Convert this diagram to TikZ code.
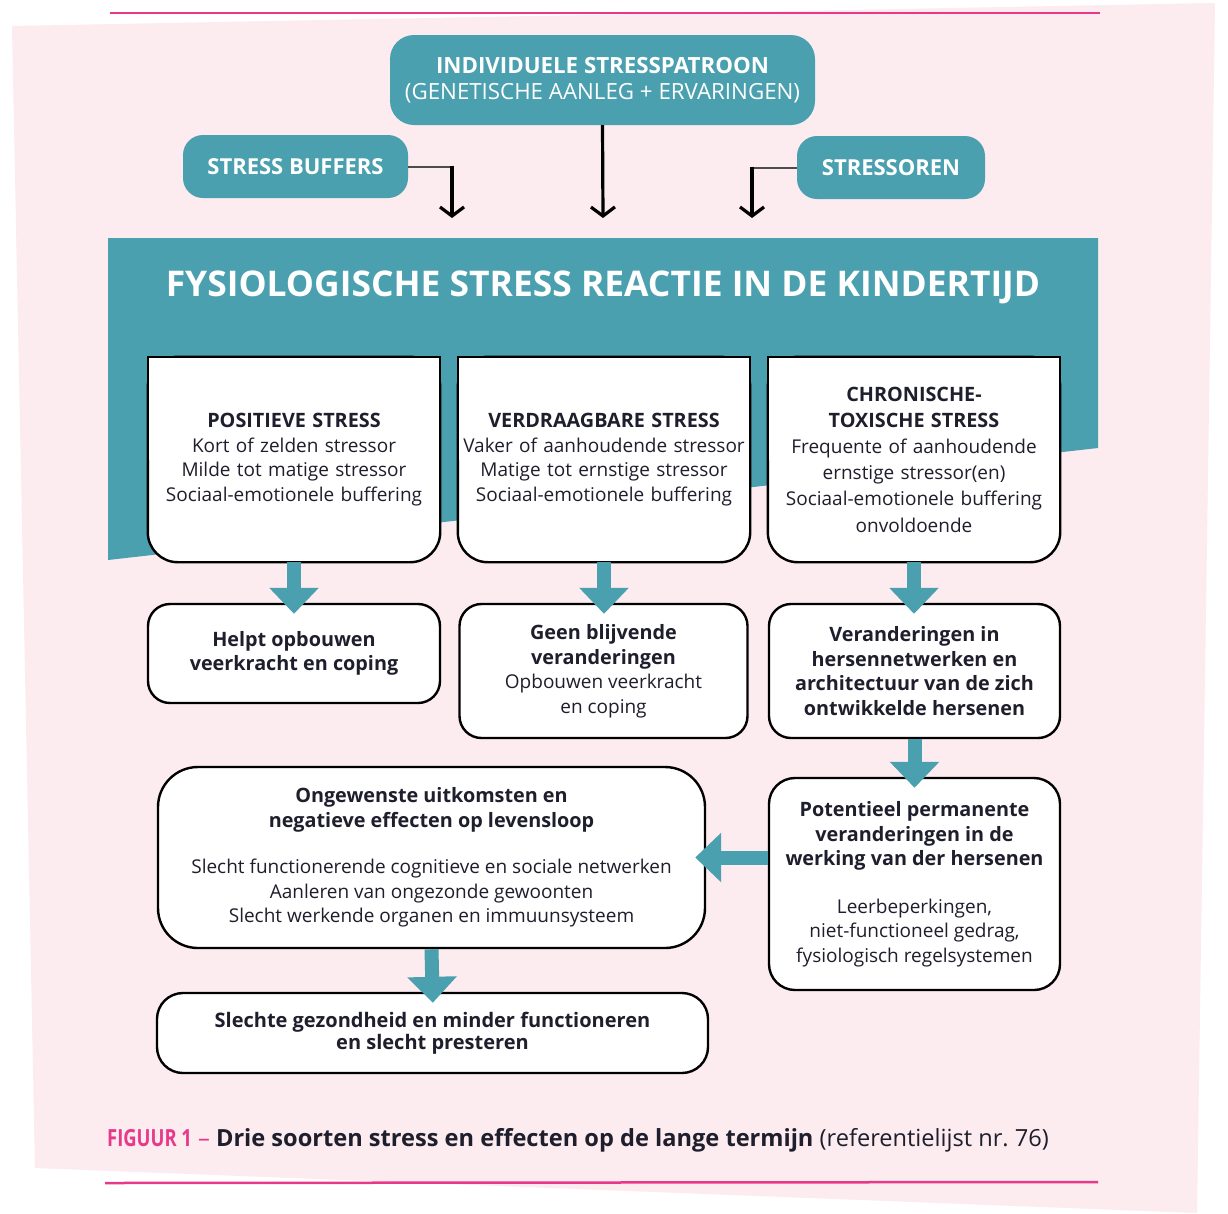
\documentclass[tikz,border=0pt]{standalone}
\usepackage{fontspec}
\setmainfont{Open Sans}
\usetikzlibrary{arrows.meta}
\definecolor{tealc}{HTML}{4AA0AE}
\definecolor{pinkbg}{HTML}{FCEBEF}
\definecolor{magline}{HTML}{E8388A}
\definecolor{ink}{HTML}{1E1E2C}
\pgfdeclarelayer{back}
\pgfdeclarelayer{background}
\pgfsetlayers{back,background,main}

% box with square top corners and rounded bottom corners, drawn behind its node
\newcommand\halfroundbox[1]{%
  \begin{pgfonlayer}{background}
    \draw[boxline, fill=white, rounded corners=30pt] (#1.north west) rectangle (#1.south east);
    \fill[white] (#1.north west) rectangle (#1.east);
    \draw[boxline] (#1.west) -- (#1.north west) -- (#1.north east) -- (#1.east);
  \end{pgfonlayer}}
% bold line at a slightly larger size
\newcommand\hd[1]{{\fontsize{19.8}{24.5}\selectfont\bfseries #1}}

\begin{document}
\begin{tikzpicture}[x=1pt,y=-1pt,
  body/.style={font=\fontsize{19}{24.5}\selectfont, text=ink},
  boldbody/.style={font=\fontsize{19.8}{24.5}\selectfont\bfseries, text=ink},
  tealbox/.style={fill=tealc, text=white, align=center, inner sep=0pt,
    font=\fontsize{22.3}{26}\selectfont},
  boxline/.style={draw=black, line width=2.4pt},
  stressbox/.style={body, minimum width=292pt, minimum height=205pt,
    text width=290pt, align=center, inner sep=0pt},
  resultbox/.style={body, boxline, fill=white, rounded corners=22pt,
    align=center, inner sep=0pt},
  blackarrow/.style={draw=black, line width=3.2pt,
    -{Straight Barb[length=9pt,width=24pt]}},
  greylink/.style={draw=black!70, line width=2pt},
  tealarrow/.style={draw=tealc, line width=14pt,
    -{Triangle[width=48pt,length=26pt]}, shorten >=-11pt}]

\useasboundingbox (0,0) rectangle (1228,1213);
\begin{pgfonlayer}{back}
  \fill[white] (0,0) rectangle (1228,1213);
  \fill[pinkbg] (12,26) -- (1215,3) -- (1197,1213) -- (35,1168) -- cycle;
  \draw[magline, line width=2.5pt] (110,13) -- (1100,13);
  \draw[magline, line width=2.5pt] (105,1183) -- (1098,1182);
  % band behind the three kinds of stress
  \fill[tealc] (108,238) -- (1098,238) -- (1098,448) -- (108,560) -- cycle;
\end{pgfonlayer}

% influences from above
\node[tealbox, rounded corners=24pt, minimum width=425pt, minimum height=90pt]
  (ind) at (602.5,80) {\textbf{INDIVIDUELE STRESSPATROON}\\(GENETISCHE AANLEG + ERVARINGEN)};
\node[tealbox, rounded corners=20pt, minimum width=225pt, minimum height=63pt,
  font=\fontsize{22}{26}\selectfont\bfseries]
  (buf) at (295.5,166.5) {STRESS BUFFERS};
\node[tealbox, rounded corners=20pt, minimum width=188pt, minimum height=63pt,
  font=\fontsize{22}{26}\selectfont\bfseries]
  (sor) at (891,167.5) {STRESSOREN};

\coordinate (inA) at (452,218);
\coordinate (inB) at (603,218);
\coordinate (inC) at (752,218);
\coordinate (ca) at (buf.east -| inA);
\coordinate (cc) at (sor.west -| inC);
\draw[greylink] (buf.east) -- (ca);
\draw[blackarrow] ([yshift=1pt]ca) -- (inA);
\draw[blackarrow] (ind.south) -- (inB);
\draw[greylink] (sor.west) -- (cc);
\draw[blackarrow] ([yshift=1pt]cc) -- (inC);

\node[text=white, font=\fontsize{35.4}{40}\selectfont\bfseries] (title) at (603,287)
  {FYSIOLOGISCHE STRESS REACTIE IN DE KINDERTIJD};

% three kinds of stress
\node[stressbox] (s1) at (294,459.5) {\hd{POSITIEVE STRESS}\\Kort of zelden stressor\\Milde tot matige stressor\\Sociaal-emotionele buffering};
\node[stressbox] (s2) at (604,459.5) {\hd{VERDRAAGBARE STRESS}\\Vaker of aanhoudende stressor\\Matige tot ernstige stressor\\Sociaal-emotionele buffering};
\node[stressbox, font=\fontsize{19}{26.2}\selectfont] (s3) at (914,459.5) {\hd{CHRONISCHE-}\\\hd{TOXISCHE STRESS}\\Frequente of aanhoudende\\ernstige stressor(en)\\Sociaal-emotionele buffering\\onvoldoende};
\halfroundbox{s1}
\halfroundbox{s2}
\halfroundbox{s3}

% outcomes
\node[resultbox, boldbody, minimum width=292pt, minimum height=99pt] (r1) at (294,653.5)
  {Helpt opbouwen\\veerkracht en coping};
\node[resultbox, minimum width=288pt, minimum height=134pt] (r2) at (603.5,671)
  {\hd{Geen blijvende}\\\hd{veranderingen}\\Opbouwen veerkracht\\en coping};
\node[resultbox, boldbody, minimum width=291pt, minimum height=134pt] (r3) at (914.5,671)
  {Veranderingen in\\hersennetwerken en\\architectuur van de zich\\ontwikkelde hersenen};
\node[resultbox, rounded corners=26pt, minimum width=291pt, minimum height=212pt] (r4) at (914.5,884)
  {\hd{Potentieel permanente}\\\hd{veranderingen in de}\\\hd{werking van der hersenen}\\[23pt]Leerbeperkingen,\\niet-functioneel gedrag,\\fysiologisch regelsystemen};
\node[resultbox, rounded corners=40pt, minimum width=547pt, minimum height=181pt] (r5) at (431.5,857.5)
  {\hd{Ongewenste uitkomsten en}\\\hd{negatieve effecten op levensloop}\\[22pt]Slecht functionerende cognitieve en sociale netwerken\\Aanleren van ongezonde gewoonten\\Slecht werkende organen en immuunsysteem};
\node[resultbox, rounded corners=26pt, minimum width=551pt, minimum height=80pt,
  font=\fontsize{20}{22}\selectfont\bfseries] (r6) at (432.5,1033)
  {Slechte gezondheid en minder functioneren\\en slecht presteren};

\draw[tealarrow] (s1.south) -- (s1.south |- r1.north);
\draw[tealarrow] (s2.south) -- (s2.south |- r2.north);
\draw[tealarrow] (s3.south) -- (s3.south |- r3.north);
\draw[tealarrow] (r3.south) -- (r4.north);
\draw[tealarrow] (r4.west |- r5.east) -- (r5.east);
\draw[tealarrow] (r5.south) -- (r6.north);

% caption
\node[anchor=west, inner sep=0pt, font=\fontsize{23.6}{26}\selectfont, text=ink] (cap) at (107,1140)
  {{\color{magline}\scalebox{0.78}[1]{\bfseries FIGUUR 1} –} \textbf{Drie soorten stress en effecten op de lange termijn} (referentielijst nr.~76)};
\end{tikzpicture}
\end{document}
